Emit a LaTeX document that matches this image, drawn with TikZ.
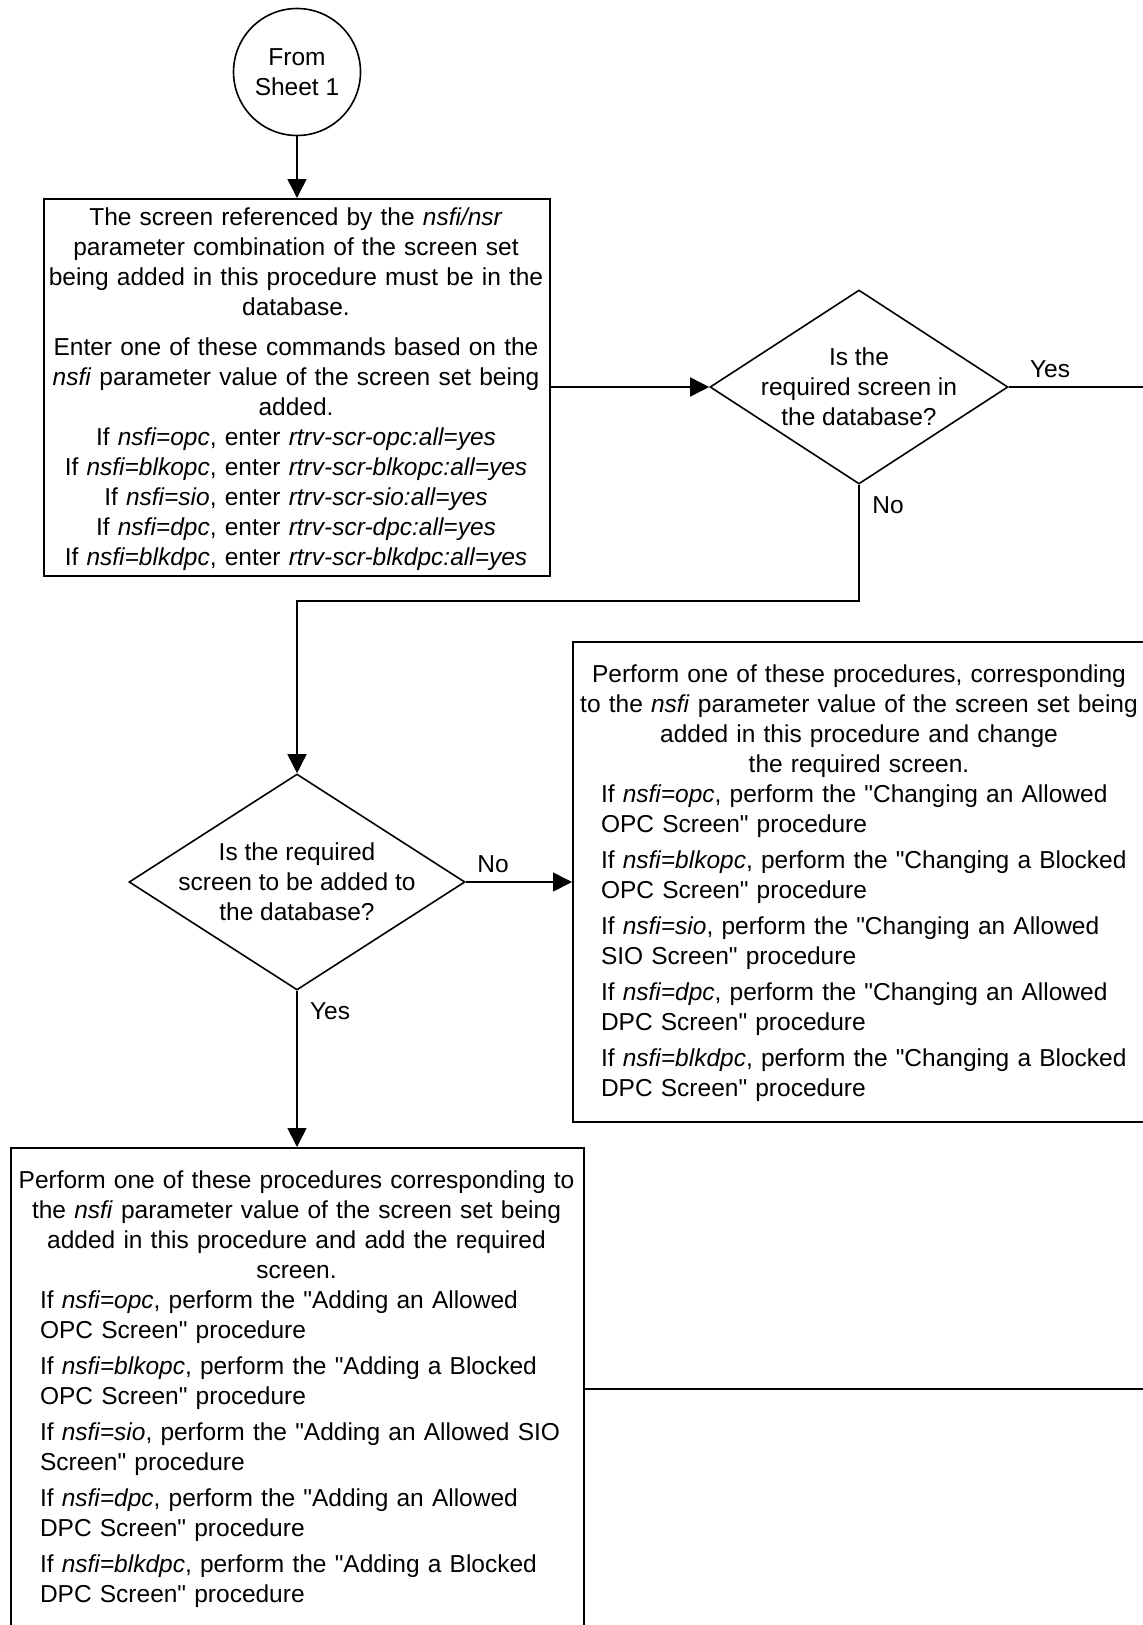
\documentclass[tikz,border=0pt]{standalone}
\usepackage{fontspec}
\setmainfont{Liberation Sans}[Ligatures=TeXOff]
\usetikzlibrary{arrows.meta,shapes.geometric}
\begin{document}
\begin{tikzpicture}[x=1pt,y=-1pt,
  every node/.style={font=\fontsize{24.5}{30}\selectfont, inner sep=0pt},
  line/.style={line width=1.6pt},
  arr/.style={line width=1.6pt,-{Triangle[length=19pt,width=19pt]}},
  frame/.style={draw, line width=1.6pt, rectangle, anchor=north west},
  decision/.style={draw, line width=1.6pt, diamond},
  terminal/.style={draw, line width=1.6pt, circle, minimum size=127pt, align=center},
  lbl/.style={anchor=base}
]
\useasboundingbox (0,0) rectangle (1143,1625);
\clip (0,0) rectangle (1143,1625);

% shapes
\node[terminal] (start) at (297,72) {From\\Sheet 1};
\node[frame, minimum width=506pt, minimum height=377pt] (box1) at (43,198) {};
\node[decision, minimum width=298pt, minimum height=194pt] (d1) at (859,387) {};
\node[decision, minimum width=336pt, minimum height=216pt] (d2) at (297,882) {};
\node[frame, minimum width=574pt, minimum height=480pt] (box2) at (572,641) {};
\node[frame, minimum width=573pt, minimum height=480pt] (box3) at (10,1147) {};

% texts
\node[anchor=north, text width=506pt, align=center] (t1) at (296,208) {%
The screen referenced by the \textit{nsfi/nsr}\\
parameter combination of the screen set\\
being added in this procedure must be in the\\
database.\\[10pt]
Enter one of these commands based on the\\
\textit{nsfi} parameter value of the screen set being\\
added.\\
If \textit{nsfi=opc}, enter \textit{rtrv-scr-opc:all=yes}\\
If \textit{nsfi=blkopc}, enter \textit{rtrv-scr-blkopc:all=yes}\\
If \textit{nsfi=sio}, enter \textit{rtrv-scr-sio:all=yes}\\
If \textit{nsfi=dpc}, enter \textit{rtrv-scr-dpc:all=yes}\\
If \textit{nsfi=blkdpc}, enter \textit{rtrv-scr-blkdpc:all=yes}};

\node[align=center] (d1t) at (d1.center) {Is the\\required screen in\\the database?};
\node[align=center] (d2t) at (d2.center) {Is the required\\screen to be added to\\the database?};

\node[anchor=north, text width=574pt] (t2) at (859,665) {%
\parindent=0pt\parskip=0pt\relax
\centering
Perform one of these procedures, corresponding\\
to the \textit{nsfi} parameter value of the screen set being\\
added in this procedure and change\\
the required screen.\par
\raggedright\leftskip=29pt\relax
If \textit{nsfi=opc}, perform the "Changing an Allowed\\
OPC Screen" procedure\\[6pt]
If \textit{nsfi=blkopc}, perform the "Changing a Blocked\\
OPC Screen" procedure\\[6pt]
If \textit{nsfi=sio}, perform the "Changing an Allowed\\
SIO Screen" procedure\\[6pt]
If \textit{nsfi=dpc}, perform the "Changing an Allowed\\
DPC Screen" procedure\\[6pt]
If \textit{nsfi=blkdpc}, perform the "Changing a Blocked\\
DPC Screen" procedure\par};

\node[anchor=north, text width=573pt] (t3) at (296.5,1171) {%
\parindent=0pt\parskip=0pt\relax
\centering
Perform one of these procedures corresponding to\\
the \textit{nsfi} parameter value of the screen set being\\
added in this procedure and add the required\\
screen.\par
\raggedright\leftskip=30pt\relax
If \textit{nsfi=opc}, perform the "Adding an Allowed\\
OPC Screen" procedure\\[6pt]
If \textit{nsfi=blkopc}, perform the "Adding a Blocked\\
OPC Screen" procedure\\[6pt]
If \textit{nsfi=sio}, perform the "Adding an Allowed SIO\\
Screen" procedure\\[6pt]
If \textit{nsfi=dpc}, perform the "Adding an Allowed\\
DPC Screen" procedure\\[6pt]
If \textit{nsfi=blkdpc}, perform the "Adding a Blocked\\
DPC Screen" procedure\par};

% labels
\node[lbl] (y1) at (1050,377) {Yes};
\node[lbl] (n1) at (888,513) {No};
\node[lbl] (n2) at (493,872) {No};
\node[lbl] (y2) at (330,1019) {Yes};

% free ends / bends
\coordinate (d1r) at (1150,387);
\coordinate (j2) at (297,601);
\coordinate (b3r) at (1150,1389);

% connectors
\draw[arr] (start.south) -- (start.south |- box1.north);
\draw[arr] (d1.west -| box1.east) -- (d1.west);
\draw[line] (d1.east) -- (d1r);
\draw[arr] (d1.south) |- (j2) -- (d2.north);
\draw[arr] (d2.east) -- (d2.east -| box2.west);
\draw[arr] (d2.south) -- (d2.south |- box3.north);
\draw[line] (b3r -| box3.east) -- (b3r);
\end{tikzpicture}
\end{document}
